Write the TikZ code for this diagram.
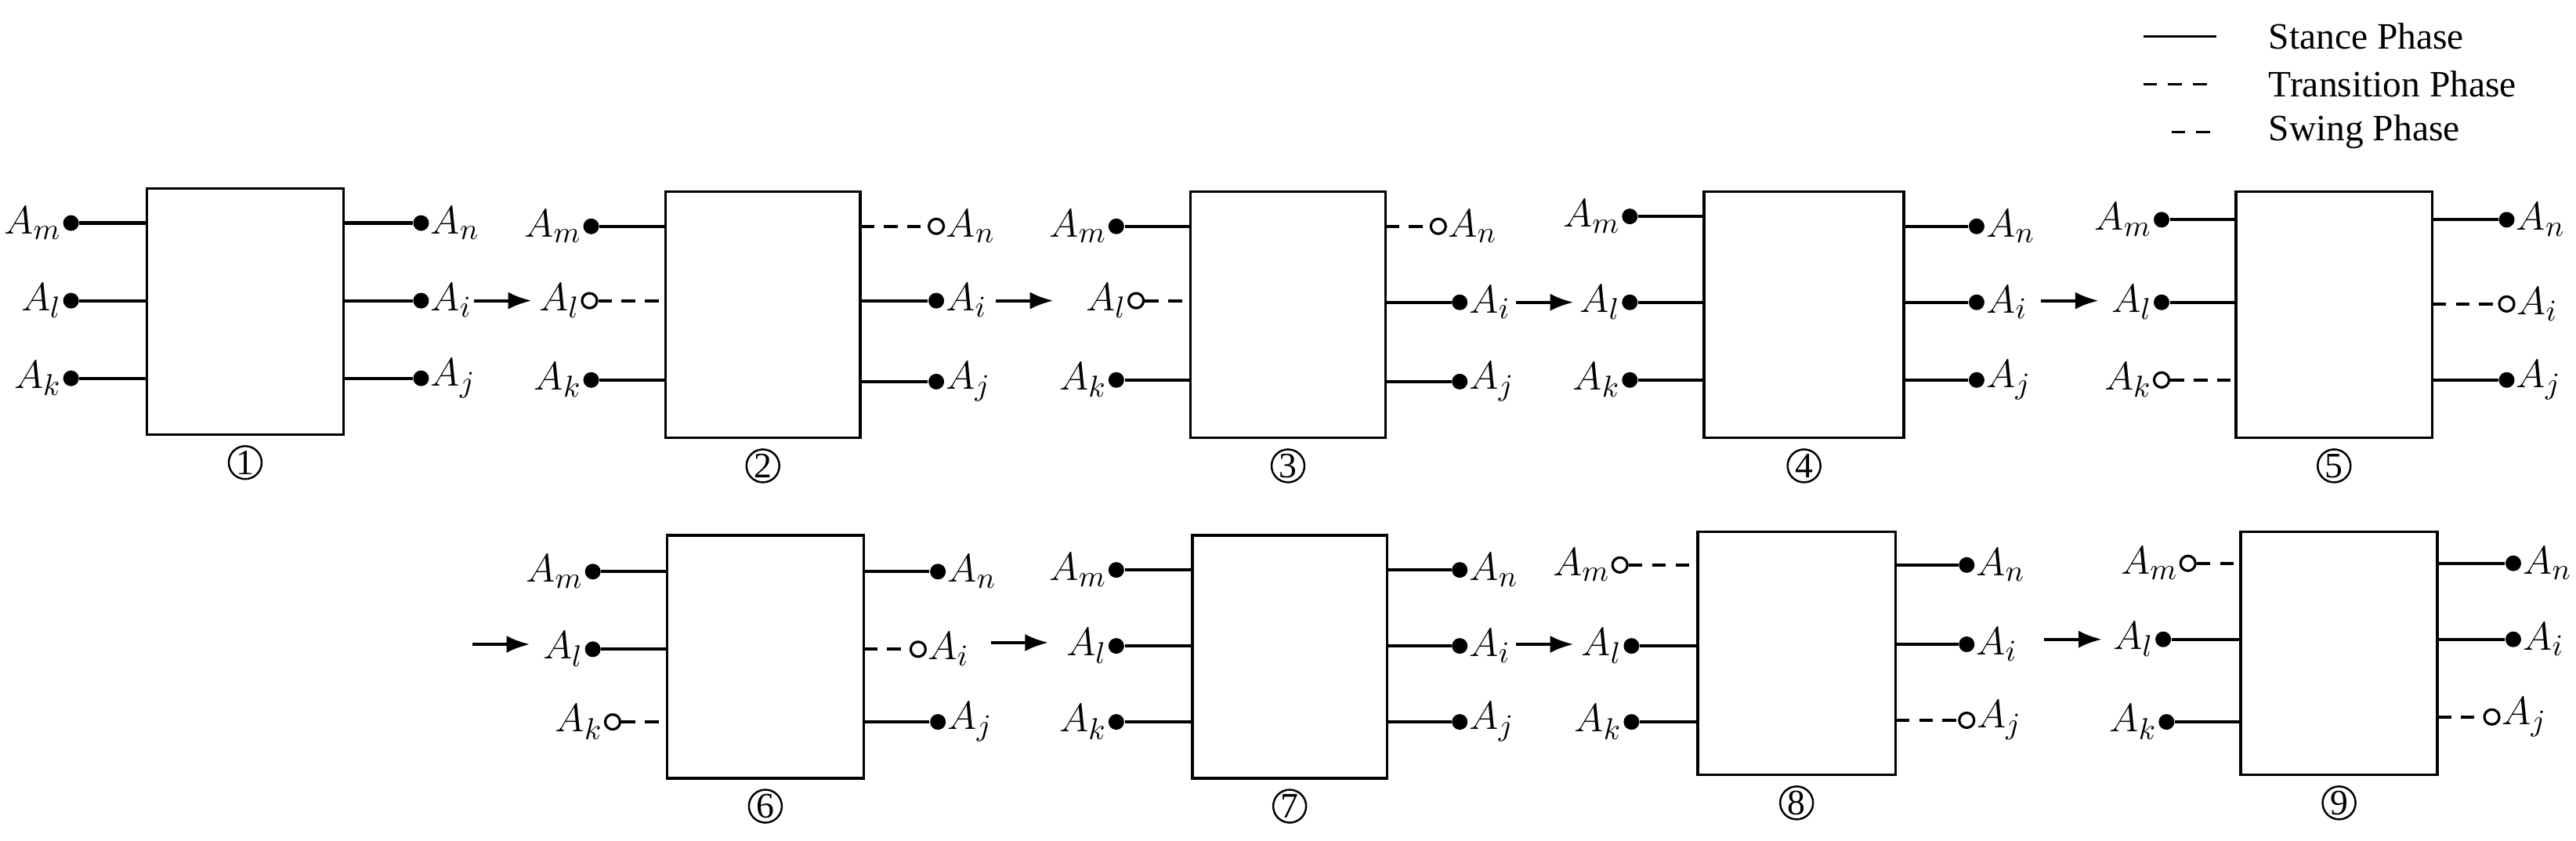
\documentclass[tikz,border=0pt]{standalone}
\usepackage{fontspec}
\setmainfont{Liberation Serif}
\usetikzlibrary{arrows.meta,fit}
\begin{document}
\begin{tikzpicture}[x=0.02108cm,y=-0.02108cm,
  box/.style={draw,line width=1pt,inner sep=0pt},
  con/.style={line width=1.2pt},
  sw/.style={line width=1.2pt,dash pattern=on 5pt off 3.5pt},
  fd/.style={circle,fill=black,inner sep=0pt,minimum size=0.2cm},
  od/.style={circle,draw,line width=0.9pt,fill=white,inner sep=0pt,minimum size=0.19cm},
  lab/.style={font=\fontsize{15.5}{18}\selectfont,inner sep=0.3pt},
  num/.style={circle,draw,line width=0.7pt,inner sep=0pt,minimum size=0.42cm,font=\fontsize{13}{14}\selectfont},
  nextarrow/.style={line width=1.2pt,-{Latex[length=0.3cm,width=0.22cm]}}]
\useasboundingbox (0,0) rectangle (1560,509);
\newcommand\mypanel[6]{%
  \coordinate (#1a) at (#2,#3); \coordinate (#1b) at (#4,#5);
  \node[box,fit=(#1a)(#1b)] (#1) {};
  \node[num] (#1n) at ({(#2+#4)/2},{#5+17}) {#6};}
\newcommand\lterm[7]{%
  \node[#6] (#1) at (#2,#3) {};
  \coordinate (#1e) at (#4,#3);
  \draw[#5] (#1) -- (#1e);
  \node[lab,anchor=east] (#1l) at (#1.west) {$A_{#7}$};}
\newcommand\rterm[7]{%
  \node[#6] (#1) at (#2,#3) {};
  \coordinate (#1e) at (#4,#3);
  \draw[#5] (#1e) -- (#1);
  \node[lab,anchor=west] (#1l) at (#1.east) {$A_{#7}$};}

\mypanel{p1}{89}{114}{208}{263}{1}
\lterm{p1m}{43}{135}{89}{con}{fd}{m}
\lterm{p1l}{43}{182}{89}{con}{fd}{l}
\lterm{p1k}{43}{229}{89}{con}{fd}{k}
\rterm{p1nn}{255}{135}{208}{con}{fd}{n}
\rterm{p1i}{255}{182}{208}{con}{fd}{i}
\rterm{p1j}{255}{229}{208}{con}{fd}{j}
\mypanel{p2}{403}{116}{521}{265}{2}
\lterm{p2m}{358}{137}{403}{con}{fd}{m}
\lterm{p2l}{357}{182}{403}{sw}{od}{l}
\lterm{p2k}{358}{230}{403}{con}{fd}{k}
\rterm{p2nn}{567}{137}{521}{sw}{od}{n}
\rterm{p2i}{567}{182}{521}{con}{fd}{i}
\rterm{p2j}{567}{231}{521}{con}{fd}{j}
\mypanel{p3}{721}{116}{839}{265}{3}
\lterm{p3m}{676}{137}{721}{con}{fd}{m}
\lterm{p3l}{688}{182}{721}{sw}{od}{l}
\lterm{p3k}{676}{230}{721}{con}{fd}{k}
\rterm{p3nn}{871}{137}{839}{sw}{od}{n}
\rterm{p3i}{884}{183}{839}{con}{fd}{i}
\rterm{p3j}{884}{231}{839}{con}{fd}{j}
\mypanel{p4}{1032}{116}{1153}{265}{4}
\lterm{p4m}{987}{131}{1032}{con}{fd}{m}
\lterm{p4l}{987}{183}{1032}{con}{fd}{l}
\lterm{p4k}{987}{230}{1032}{con}{fd}{k}
\rterm{p4nn}{1197}{137}{1153}{con}{fd}{n}
\rterm{p4i}{1197}{183}{1153}{con}{fd}{i}
\rterm{p4j}{1197}{230}{1153}{con}{fd}{j}
\mypanel{p5}{1354}{116}{1473}{265}{5}
\lterm{p5m}{1309}{133}{1354}{con}{fd}{m}
\lterm{p5l}{1309}{183}{1354}{con}{fd}{l}
\lterm{p5k}{1309}{230}{1354}{sw}{od}{k}
\rterm{p5nn}{1518}{133}{1473}{con}{fd}{n}
\rterm{p5i}{1518}{184}{1473}{sw}{od}{i}
\rterm{p5j}{1518}{230}{1473}{con}{fd}{j}
\mypanel{p6}{404}{324}{523}{471}{6}
\lterm{p6m}{359}{346}{404}{con}{fd}{m}
\lterm{p6l}{359}{393}{404}{con}{fd}{l}
\lterm{p6k}{371}{437}{404}{sw}{od}{k}
\rterm{p6nn}{568}{346}{523}{con}{fd}{n}
\rterm{p6i}{556}{393}{523}{sw}{od}{i}
\rterm{p6j}{568}{437}{523}{con}{fd}{j}
\mypanel{p7}{722}{324}{840}{471}{7}
\lterm{p7m}{676}{345}{722}{con}{fd}{m}
\lterm{p7l}{676}{391}{722}{con}{fd}{l}
\lterm{p7k}{676}{437}{722}{con}{fd}{k}
\rterm{p7nn}{884}{345}{840}{con}{fd}{n}
\rterm{p7i}{884}{391}{840}{con}{fd}{i}
\rterm{p7j}{884}{437}{840}{con}{fd}{j}
\mypanel{p8}{1028}{322}{1148}{469}{8}
\lterm{p8m}{981}{342}{1028}{sw}{od}{m}
\lterm{p8l}{988}{391}{1028}{con}{fd}{l}
\lterm{p8k}{988}{437}{1028}{con}{fd}{k}
\rterm{p8nn}{1191}{342}{1148}{con}{fd}{n}
\rterm{p8i}{1191}{390}{1148}{con}{fd}{i}
\rterm{p8j}{1191}{436}{1148}{sw}{od}{j}
\mypanel{p9}{1357}{322}{1476}{469}{9}
\lterm{p9m}{1325}{341}{1357}{sw}{od}{m}
\lterm{p9l}{1310}{387}{1357}{con}{fd}{l}
\lterm{p9k}{1312}{437}{1357}{con}{fd}{k}
\rterm{p9nn}{1522}{341}{1476}{con}{fd}{n}
\rterm{p9i}{1522}{387}{1476}{con}{fd}{i}
\rterm{p9j}{1509}{434}{1476}{sw}{od}{j}

\coordinate (s1) at (287,182); \coordinate (t1) at (322,182);
\coordinate (s2) at (603,182); \coordinate (t2) at (638,182);
\coordinate (s3) at (918,183); \coordinate (t3) at (953,183);
\coordinate (s4) at (1236,182); \coordinate (t4) at (1271,182);
\coordinate (s5) at (286,390); \coordinate (t5) at (321,390);
\coordinate (s6) at (600,389); \coordinate (t6) at (635,389);
\coordinate (s7) at (918,390); \coordinate (t7) at (953,390);
\coordinate (s8) at (1238,387); \coordinate (t8) at (1273,387);
\foreach \i in {1,...,8} \draw[nextarrow] (s\i) -- (t\i);

\coordinate (l1a) at (1298,22); \coordinate (l1b) at (1342,22);
\coordinate (l2a) at (1298,51); \coordinate (l2b) at (1342,51);
\coordinate (l3a) at (1315,80); \coordinate (l3b) at (1342,80);
\draw[line width=1pt] (l1a) -- (l1b);
\draw[line width=1pt,dash pattern=on 5pt off 4pt] (l2a) -- (l2b);
\draw[line width=1pt,dash pattern=on 5pt off 4pt] (l3a) -- (l3b);
\node[anchor=west,font=\fontsize{13.5}{16}\selectfont] (lg1) at (1368,22) {Stance Phase};
\node[anchor=west,font=\fontsize{13.5}{16}\selectfont] (lg2) at (1368,51) {Transition Phase};
\node[anchor=west,font=\fontsize{13.5}{16}\selectfont] (lg3) at (1368,80) {Swing Phase};
\end{tikzpicture}
\end{document}
